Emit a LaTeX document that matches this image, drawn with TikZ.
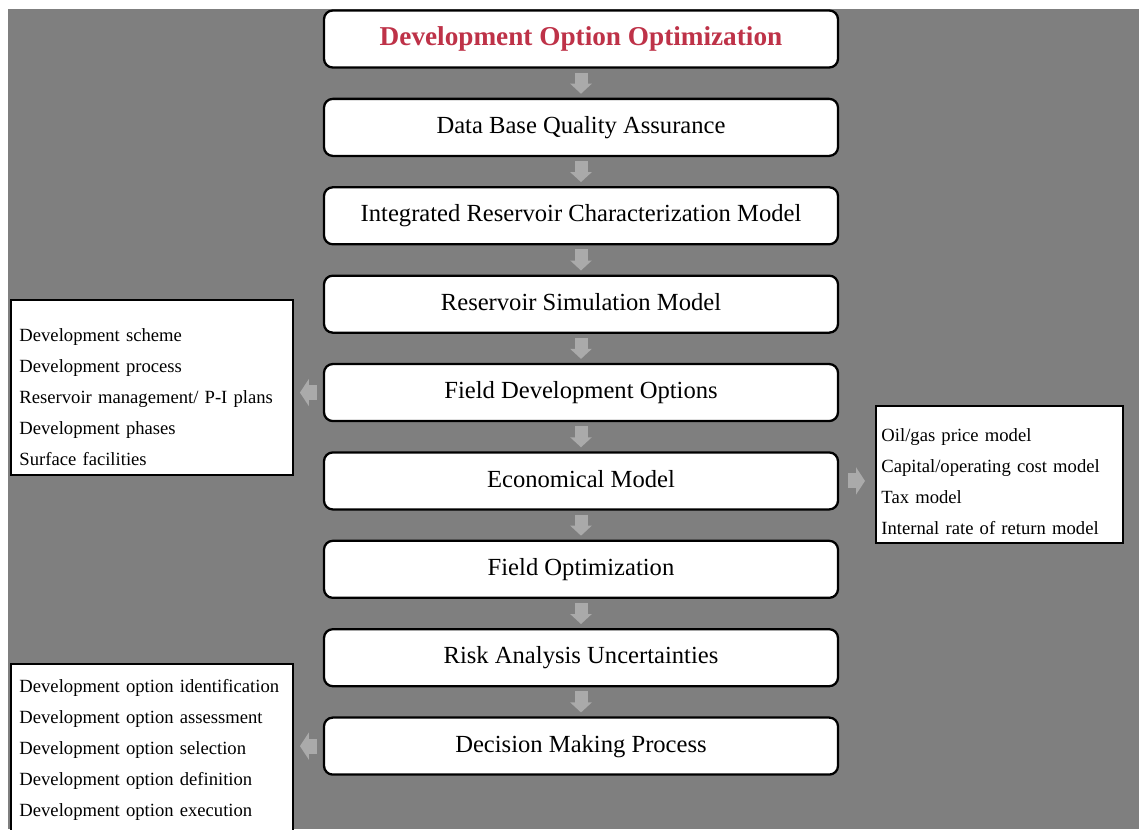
\documentclass[tikz,border=0pt]{standalone}
\usepackage{fontspec}
\setmainfont{Liberation Serif}
\usetikzlibrary{arrows.meta,positioning}
\definecolor{titlered}{RGB}{190,50,72}
\definecolor{bggray}{RGB}{127,127,127}
\definecolor{arrgray}{RGB}{170,170,170}
\hyphenpenalty=10000

\begin{document}
\begin{tikzpicture}[
  x=0.2mm, y=-0.2mm,
  node distance=5.82mm,
  stage/.style={draw, line width=1.3pt, rounded corners=5pt, fill=white, minimum width=102.8mm, minimum height=11.4mm, inner sep=0pt, text height=9pt, text depth=2pt, font=\fontsize{14}{16}\selectfont},
  side/.style={draw, line width=1.1pt, fill=white, align=left, inner ysep=0pt, anchor=north west, font=\fontsize{10.6}{17.64}\selectfont},
  flow/.style={-{Triangle[width=4.2mm,length=2mm]}, line width=2.6mm, draw=arrgray, shorten <=0.8mm, shorten >=0.8mm},
  sideflow/.style={-{Triangle[width=5.4mm,length=1.8mm]}, line width=3mm, draw=arrgray}
]
\useasboundingbox (0,0) rectangle (1141,829);
\clip (0,0) rectangle (1141,829);
\fill[white] (0,0) rectangle (1141,829);
\fill[bggray] (8,9) rectangle (1139,829);

\node[stage, font=\fontsize{15.5}{18}\selectfont\bfseries, text=titlered] (title) at (581,39) {Development Option Optimization};
\node[stage, below=of title] (dbqa) {Data Base Quality Assurance};
\node[stage, below=of dbqa] (ircm) {Integrated Reservoir Characterization Model};
\node[stage, below=of ircm] (rsm) {Reservoir Simulation Model};
\node[stage, below=of rsm] (fdo) {Field Development Options};
\node[stage, below=of fdo] (econ) {Economical Model};
\node[stage, below=of econ] (fopt) {Field Optimization};
\node[stage, below=of fopt] (risk) {Risk Analysis Uncertainties};
\node[stage, below=of risk] (dmp) {Decision Making Process};

\node[side, text width=53mm, inner xsep=1.7mm] (fdoopts) at (10,299) {\rule{0pt}{8.4mm}Development scheme\\Development process\\Reservoir management/ P-I plans\\Development phases\\Surface facilities\rule[-1.8mm]{0pt}{1.8mm}};
\node[side, text width=47.2mm, inner xsep=1.1mm] (econmods) at (875,405) {\rule{0pt}{7.2mm}Oil/gas price model\\Capital/operating cost model\\Tax model\\Internal rate of return model\rule[-1.6mm]{0pt}{1.6mm}};
\node[side, text width=53mm, inner xsep=1.7mm] (dmpsteps) at (10,663) {\rule{0pt}{5.8mm}Development option identification\\Development option assessment\\Development option selection\\Development option definition\\Development option execution\rule[-4mm]{0pt}{4mm}};

\foreach \a/\b in {title/dbqa, dbqa/ircm, ircm/rsm, rsm/fdo, fdo/econ, econ/fopt, fopt/risk, risk/dmp}
  \draw[flow] (\a) -- (\b);
\draw[sideflow, shorten <=1.2mm, shorten >=1.2mm] (fdo.west) -- (fdo.west -| fdoopts.east);
\draw[sideflow, shorten <=1.8mm, shorten >=2mm] (econ.east) -- (econ.east -| econmods.west);
\draw[sideflow, shorten <=1.2mm, shorten >=1.2mm] (dmp.west) -- (dmp.west -| dmpsteps.east);
\end{tikzpicture}
\end{document}
